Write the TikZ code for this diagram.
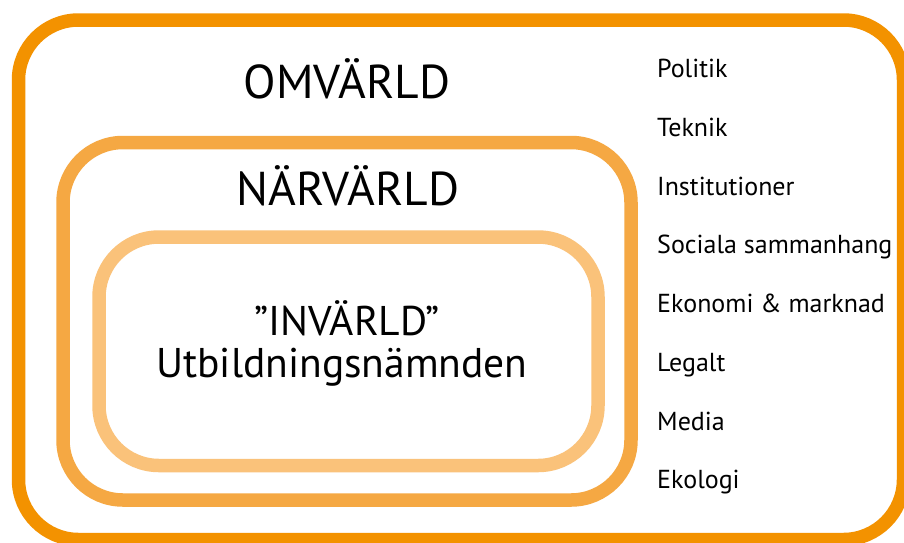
\documentclass[tikz,border=0pt]{standalone}
\usepackage{fontspec}
\setmainfont{PT Sans}
\definecolor{outerc}{HTML}{F39200}
\definecolor{midc}{HTML}{F5A843}
\definecolor{innerc}{HTML}{FAC27A}
\begin{document}
\begin{tikzpicture}[x=1pt,y=-1pt,
  frame/.style={line width=13.5pt, rounded corners=60pt},
  big/.style={font=\fontsize{47.5}{47.5}\selectfont, anchor=base, inner sep=0pt},
  mid/.style={font=\fontsize{41.5}{41.5}\selectfont, anchor=base, inner sep=0pt},
  item/.style={font=\fontsize{26}{26}\selectfont, anchor=base west, inner sep=0pt}]
\useasboundingbox (0,0) rectangle (904,542);
\fill[white] (0,0) rectangle (904,542);
\draw[frame, outerc] (18.5,20) rectangle (903.5,539.5);
\draw[frame, midc] (63,142.5) rectangle (631,500);
\draw[frame, innerc] (99,237) rectangle (598,465.5);
\node[big] (omv) at (347,98) {OMVÄRLD};
\node[big] (narv) at (348,205) {NÄRVÄRLD};
\node[mid] (inv) at (347,335) {”INVÄRLD”};
\node[mid] (utb) at (342,377) {Utbildningsnämnden};
\node[item] (i1) at (657,77) {Politik};
\node[item] (i2) at (657,136) {Teknik};
\node[item] (i3) at (657,195) {Institutioner};
\node[item] (i4) at (657,253) {Sociala sammanhang};
\node[item] (i5) at (657,312) {Ekonomi \& marknad};
\node[item] (i6) at (657,371) {Legalt};
\node[item] (i7) at (657,430) {Media};
\node[item] (i8) at (657,488) {Ekologi};
\end{tikzpicture}
\end{document}
